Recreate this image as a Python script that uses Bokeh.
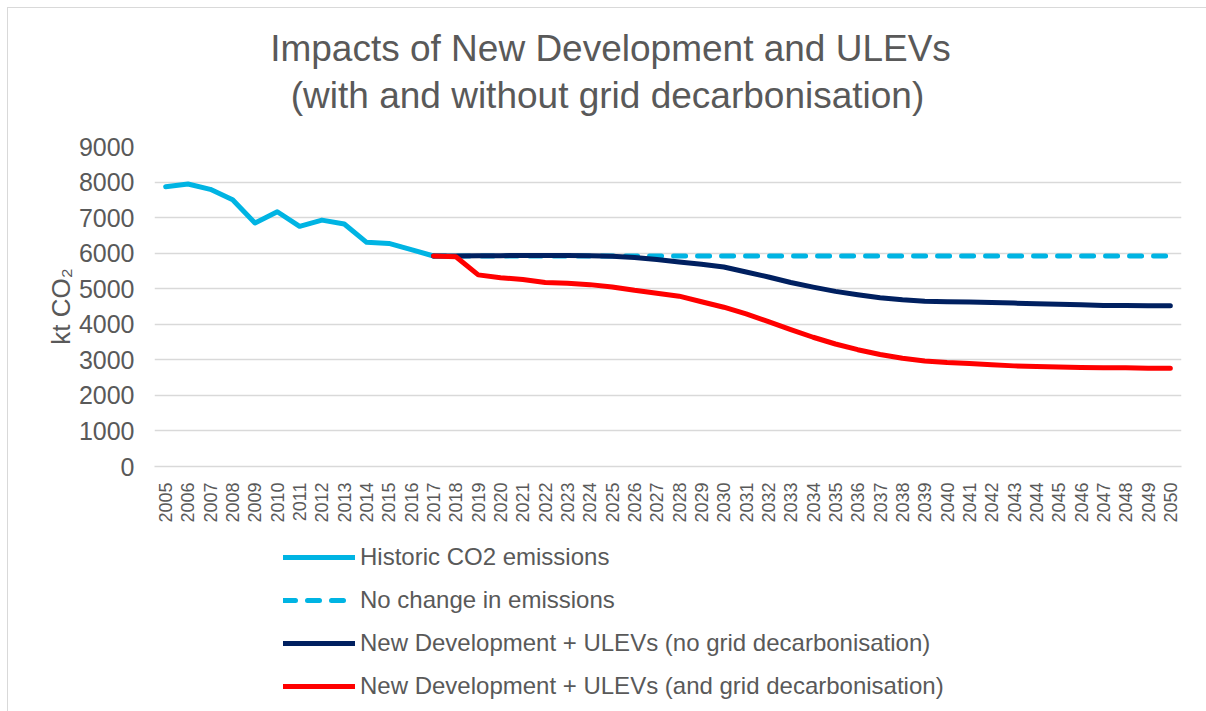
import math
from bokeh.plotting import figure
from bokeh.layouts import column
from bokeh.models import Range1d, FixedTicker, Legend, LegendItem, Label
from bokeh.embed import file_html
from bokeh.resources import INLINE

# ---- data ----
years = list(range(2005, 2051))
hist_years = list(range(2005, 2018))
historic = [7870, 7945, 7795, 7505, 6850, 7165, 6755, 6930, 6820, 6305, 6275, 6100, 5920]

proj_years = list(range(2017, 2051))
no_change = [5920, 5920, 5920, 5920, 5920, 5920, 5920, 5920, 5920, 5920,
             5920, 5920, 5920, 5920, 5920, 5920, 5920, 5920, 5920, 5920,
             5920, 5920, 5920, 5920, 5920, 5920, 5920, 5920, 5920, 5920,
             5920, 5920, 5920, 5920]
no_grid = [5920, 5920, 5925, 5930, 5935, 5935, 5935, 5930, 5915, 5880,
           5820, 5750, 5690, 5610, 5470, 5330, 5175, 5045, 4925, 4830,
           4745, 4690, 4650, 4635, 4625, 4610, 4595, 4575, 4560, 4550,
           4530, 4525, 4520, 4520]
with_grid = [5920, 5900, 5390, 5310, 5260, 5175, 5155, 5115, 5050, 4955,
             4875, 4790, 4635, 4480, 4290, 4075, 3850, 3635, 3445, 3285,
             3150, 3045, 2970, 2925, 2895, 2860, 2830, 2810, 2800, 2785,
             2775, 2775, 2760, 2760]
y_ticks = [0, 1000, 2000, 3000, 4000, 5000, 6000, 7000, 8000, 9000]

title_lines = ["Impacts of New Development and ULEVs",
               "(with and without grid decarbonisation)"]
labels = ["Historic CO2 emissions",
          "No change in emissions",
          "New Development + ULEVs (no grid decarbonisation)",
          "New Development + ULEVs (and grid decarbonisation)"]
colors = ["#00B4E3", "#00B4E3", "#002060", "#FF0000"]

FONT = "Liberation Sans"
TXT = "#595959"
GRID = "#d9d9d9"
W = 1198
LEFT, RIGHT = 146, 25

# ---------------- title strip ----------------
H0 = 112
p0 = figure(width=W, height=H0, output_backend="svg", toolbar_location=None,
            x_range=Range1d(LEFT, W - RIGHT), y_range=Range1d(0, H0),
            x_axis_type=None, y_axis_type=None,
            min_border_left=0, min_border_right=0, min_border_top=0,
            min_border_bottom=0)
p0.outline_line_color = None
p0.grid.visible = False
p0.add_layout(Label(x=602, y=72, text=title_lines[0], text_align="center",
                    text_baseline="alphabetic", text_font=FONT,
                    text_font_size="37px", text_color=TXT))
p0.add_layout(Label(x=599, y=25, text=title_lines[1], text_align="center",
                    text_baseline="alphabetic", text_font=FONT,
                    text_font_size="37px", text_color=TXT))

# ---------------- main chart ----------------
H1 = 410
p = figure(width=W, height=H1, output_backend="svg", toolbar_location=None,
           x_range=Range1d(2004.5, 2050.5), y_range=Range1d(0, 9000),
           min_border_left=LEFT, min_border_right=RIGHT, min_border_top=26,
           min_border_bottom=64)
p.outline_line_color = None
p.background_fill_color = "white"
p.border_fill_color = "white"

p.xaxis.ticker = FixedTicker(ticks=years)
p.xaxis.major_label_orientation = math.pi / 2
p.xaxis.major_label_text_font = FONT
p.xaxis.major_label_text_font_size = "18px"
p.xaxis.major_label_text_color = TXT
p.xaxis.major_tick_line_color = None
p.xaxis.minor_tick_line_color = None
p.xaxis.axis_line_color = GRID
p.xaxis.axis_line_width = 1.5
p.xaxis.major_label_standoff = 10

p.yaxis.ticker = FixedTicker(ticks=y_ticks)
p.yaxis.major_label_text_font = FONT
p.yaxis.major_label_text_font_size = "25px"
p.yaxis.major_label_text_color = TXT
p.yaxis.major_tick_line_color = None
p.yaxis.minor_tick_line_color = None
p.yaxis.axis_line_color = None
p.yaxis.major_label_standoff = 14
p.yaxis.axis_label = "kt CO₂"
p.yaxis.axis_label_text_font = FONT
p.yaxis.axis_label_text_font_size = "26px"
p.yaxis.axis_label_text_font_style = "normal"
p.yaxis.axis_label_text_color = TXT
p.yaxis.axis_label_standoff = 0

p.xgrid.grid_line_color = None
p.ygrid.grid_line_color = GRID
p.ygrid.grid_line_width = 1.5

series = [(hist_years, historic), (proj_years, no_change),
          (proj_years, no_grid), (proj_years, with_grid)]
dashes = ["solid", "12 12", "solid", "solid"]
for (xs, ys), c, d in zip(series, colors, dashes):
    p.line(xs, ys, line_color=c, line_width=5, line_dash=d,
           line_join="round", line_cap="round")

# ---------------- legend strip ----------------
H2 = 703 - H0 - H1
p2 = figure(width=W, height=H2, output_backend="svg", toolbar_location=None,
            x_range=Range1d(0, 1), y_range=Range1d(0, 1),
            x_axis_type=None, y_axis_type=None,
            min_border_left=0, min_border_right=0, min_border_top=0,
            min_border_bottom=0)
p2.outline_line_color = None
p2.grid.visible = False
items = []
for (xs, ys), c, d, lab in zip(series, colors, dashes, labels):
    r = p2.line(xs, ys, line_color=c, line_width=5, line_dash=d,
                line_cap="round")
    items.append(LegendItem(label=lab, renderers=[r]))
legend = Legend(items=items, location=(129, 11), orientation="vertical",
                glyph_width=72, glyph_height=24, label_height=24,
                spacing=15, label_standoff=5, padding=0, margin=0,
                border_line_color=None, background_fill_alpha=0,
                label_text_font=FONT, label_text_font_size="24px",
                label_text_color=TXT)
p2.add_layout(legend, "center")

layout = column(p0, p, p2, spacing=0,
                styles={"margin-left": "7px", "margin-top": "7px",
                        "border-top": "1px solid #d9d9d9",
                        "border-left": "1px solid #d9d9d9"})

open("out.html", "w").write(file_html(layout, INLINE))
